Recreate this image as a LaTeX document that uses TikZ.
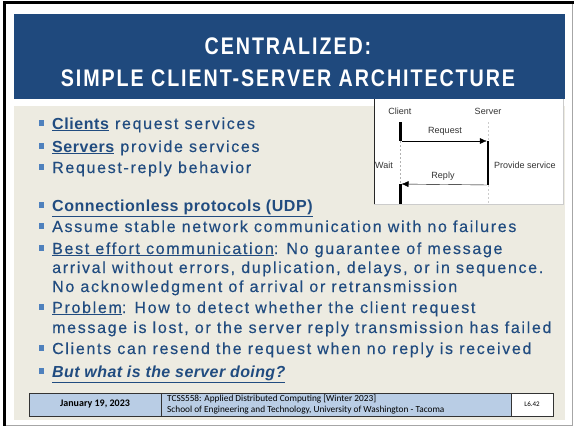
\documentclass[tikz,border=0pt]{standalone}
\usepackage{fontspec}
\setmainfont{Liberation Sans}
\newfontfamily\titlefont[LetterSpace=8,FakeStretch=0.82]{Liberation Sans}
\newfontfamily\bodyfont[LetterSpace=10.5,FakeBold=0.3,
  BoldFeatures={LetterSpace=3.5,FakeBold=0},
  BoldItalicFeatures={LetterSpace=2.5,FakeBold=0}]{Liberation Sans}
\newfontfamily\footfont{Carlito}
\usetikzlibrary{arrows.meta,positioning}
\definecolor{banner}{RGB}{31,73,125}
\definecolor{paper}{RGB}{237,235,225}
\definecolor{ink}{RGB}{33,76,128}
\definecolor{dotblue}{RGB}{79,129,189}
\definecolor{footblue}{RGB}{185,205,229}

\begin{document}
\begin{tikzpicture}[x=1pt,y=-1pt,>=Stealth,
  item/.style={anchor=base west,inner sep=0pt,text=ink,font=\bodyfont\fontsize{16}{19.5}\selectfont},
  dot/.style={fill=dotblue,minimum size=5.5pt,inner sep=0pt},
  lbl/.style={font=\fontsize{9}{10}\selectfont,text=black!80,inner sep=0pt},
  cell/.style={draw=black!80,fill=footblue,inner sep=0pt},
  title/.style={anchor=base,inner sep=0pt,text=white,font=\titlefont\bfseries\fontsize{24}{28}\selectfont}]
  \useasboundingbox (0,0) rectangle (574,431);
  \fill[white] (0,0) rectangle (574,431);

  % slide frame
  \draw[gray!70,line width=1pt] (572,3)--(572,425)--(4.5,425);
  \draw[line width=3pt] (574,2.5)--(4.5,2.5)--(4.5,426);

  % title banner
  \fill[banner] (14,14) rectangle (565,99);
  \node[title] (t1) at (288,54) {CENTRALIZED:};
  \node[title] (t2) at (288,86) {SIMPLE CLIENT-SERVER ARCHITECTURE};

  \fill[paper] (14,106) rectangle (565,420);

  % bullets
  \foreach \y [count=\i] in {129,152,173,211,232,254,313,354,377}
    \node[dot] (b\i) at (41.5,\y-6) {};

  \node[item] (cli) at (52,129) {\textbf{\underline{Clients}} request services};
  \node[item] (srv) at (52,152) {\textbf{\underline{Servers}} provide services};
  \node[item] (rr) at (52,173) {Request-reply behavior};
  \node[item] (udp) at (52,211) {\textbf{\underline{Connectionless protocols (UDP)}}};
  \node[item] (asm) at (52,232) {Assume stable network communication with no failures};
  \node[item] (best) at (52,254) {\underline{Best effort communication}: No guarantee of message};
  \node[item] (best2) at (52,273) {arrival without errors, duplication, delays, or in sequence.};
  \node[item] (best3) at (52,292) {No acknowledgment of arrival or retransmission};
  \node[item] (prob) at (52,313) {\underline{Problem}: How to detect whether the client request};
  \node[item] (prob2) at (52,333) {message is lost, or the server reply transmission has failed};
  \node[item] (res) at (52,354) {Clients can resend the request when no reply is received};
  \node[item] (what) at (52,377) {\textbf{\textit{\underline{But what is the server doing?}}}};

  % request-reply picture
  \fill[white] (374,99) rectangle (563,204);
  \draw[gray!40] (374,204)--(563,204)--(563,99);
  \draw[black!85] (374,99)--(374,204);
  \node[lbl] (client) at (400,111) {Client};
  \node[lbl] (server) at (488,111) {Server};
  \coordinate (ctop) at (400,122);
  \coordinate (creq) at (400,141);
  \coordinate (crep) at (400,184);
  \coordinate (cbot) at (400,204);
  \coordinate (stop) at (488,122);
  \coordinate (sreq) at (488,141);
  \coordinate (srep) at (488,185);
  \coordinate (sbot) at (488,204);
  \draw[line width=3pt] (ctop)--(creq);
  \draw[gray!60,dash pattern=on 2pt off 2pt] (creq)--(crep);
  \draw[line width=3pt] (crep)--(cbot);
  \draw[gray!40,dash pattern=on 2pt off 2pt] (stop)--(sreq);
  \draw[line width=2.5pt] (sreq)--(srep);
  \draw[gray!40,dash pattern=on 2pt off 2pt] (srep)--(sbot);
  \draw[-{Latex[length=7pt,width=6pt]},shorten <=1.5pt,shorten >=1.2pt] (creq)--(sreq);
  \draw[-{Latex[length=7pt,width=6pt]},shorten <=1.2pt,shorten >=1.5pt] (srep)--(crep);
  \node[lbl] (req) at (445,131) {Request};
  \node[lbl] (rep) at (443,176) {Reply};
  \node[lbl,anchor=west] (wait) at (375,165) {Wait};
  \node[lbl,anchor=west] (prov) at (494,165) {Provide service};

  % footer
  \draw[cell] (29,393) rectangle (161,416);
  \draw[cell] (161,393) rectangle (511,416);
  \draw[cell,fill=white] (511,393) rectangle (553,416);
  \node[font=\footfont\bfseries\fontsize{10}{12}\selectfont,inner sep=0pt] (date) at (95,404.5) {January 19, 2023};
  \node[font=\footfont\fontsize{9.3}{10.5}\selectfont,anchor=west,align=left,inner sep=0pt] (course) at (167,404.5)
    {TCSS558: Applied Distributed Computing [Winter 2023]\\School of Engineering and Technology, University of Washington - Tacoma};
  \node[font=\footfont\fontsize{7}{8}\selectfont,inner sep=0pt] (page) at (532,404.5) {L6.42};
\end{tikzpicture}
\end{document}
